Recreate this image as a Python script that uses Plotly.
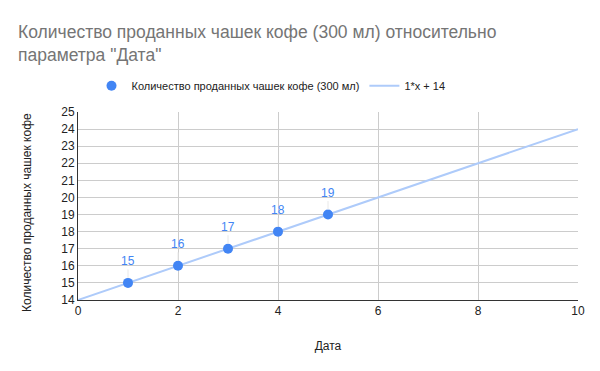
import plotly.graph_objects as go

x_vals = [1, 2, 3, 4, 5]
y_vals = [15, 16, 17, 18, 19]
trend_x = [0, 10]
slope = 1
intercept = 14
trend_y = [slope * v + intercept for v in trend_x]

FONT = "Liberation Sans, Arial, sans-serif"

fig = go.Figure()
fig.add_trace(go.Scatter(
    x=trend_x, y=trend_y, mode="lines", name="1*x + 14",
    line=dict(color="#aecbfa", width=2), hoverinfo="skip"))
fig.add_trace(go.Scatter(
    x=x_vals, y=y_vals, mode="markers", name="Количество проданных чашек кофе (300 мл)",
    marker=dict(color="#4285f4", size=10)))

for xv, yv in zip(x_vals, y_vals):
    fig.add_annotation(x=xv, y=yv, text=str(yv), showarrow=True, arrowhead=0,
                       arrowcolor="#e8e8e8", arrowwidth=1, ax=0, ay=-22, standoff=5,
                       font=dict(family=FONT, size=12, color="#4285f4"))

fig.add_annotation(text="Количество проданных чашек кофе", xref="paper", yref="paper",
                   x=-0.102, y=0.463, xanchor="center", yanchor="middle",
                   textangle=-90, showarrow=False,
                   font=dict(family=FONT, size=12, color="#222222"))

fig.update_layout(
    width=600, height=371,
    margin=dict(l=78, r=22, t=112, b=71),
    paper_bgcolor="white", plot_bgcolor="white",
    font=dict(family=FONT, size=12, color="#222222"),
    title=dict(text="Количество проданных чашек кофе (300 мл) относительно<br>параметра \"Дата\"",
               x=0.03, xanchor="left", y=0.897, yanchor="top",
               font=dict(family=FONT, size=17.5, color="#757575")),
    legend=dict(orientation="h", x=0.386, xanchor="center", y=1.14, yanchor="middle",
                traceorder="reversed", font=dict(family=FONT, size=11, color="#222222"),
                itemwidth=30),
    xaxis=dict(range=[0, 10], tickvals=[0, 2, 4, 6, 8, 10], showgrid=True,
               gridcolor="#cccccc", showline=True, linecolor="#333333", linewidth=1,
               zeroline=False, ticks="", automargin=False,
               title=dict(text="Дата", standoff=24, font=dict(size=12)),
               tickfont=dict(color="#222222")),
    yaxis=dict(range=[14, 25], dtick=1, showgrid=True, gridcolor="#cccccc",
               showline=True, linecolor="#333333", linewidth=1, zeroline=False,
               ticks="", automargin=False,
               tickfont=dict(color="#222222")),
    showlegend=True,
)
fig.write_html("out.html", config={"displayModeBar": False},
               post_script="document.body.style.margin='0px';")
